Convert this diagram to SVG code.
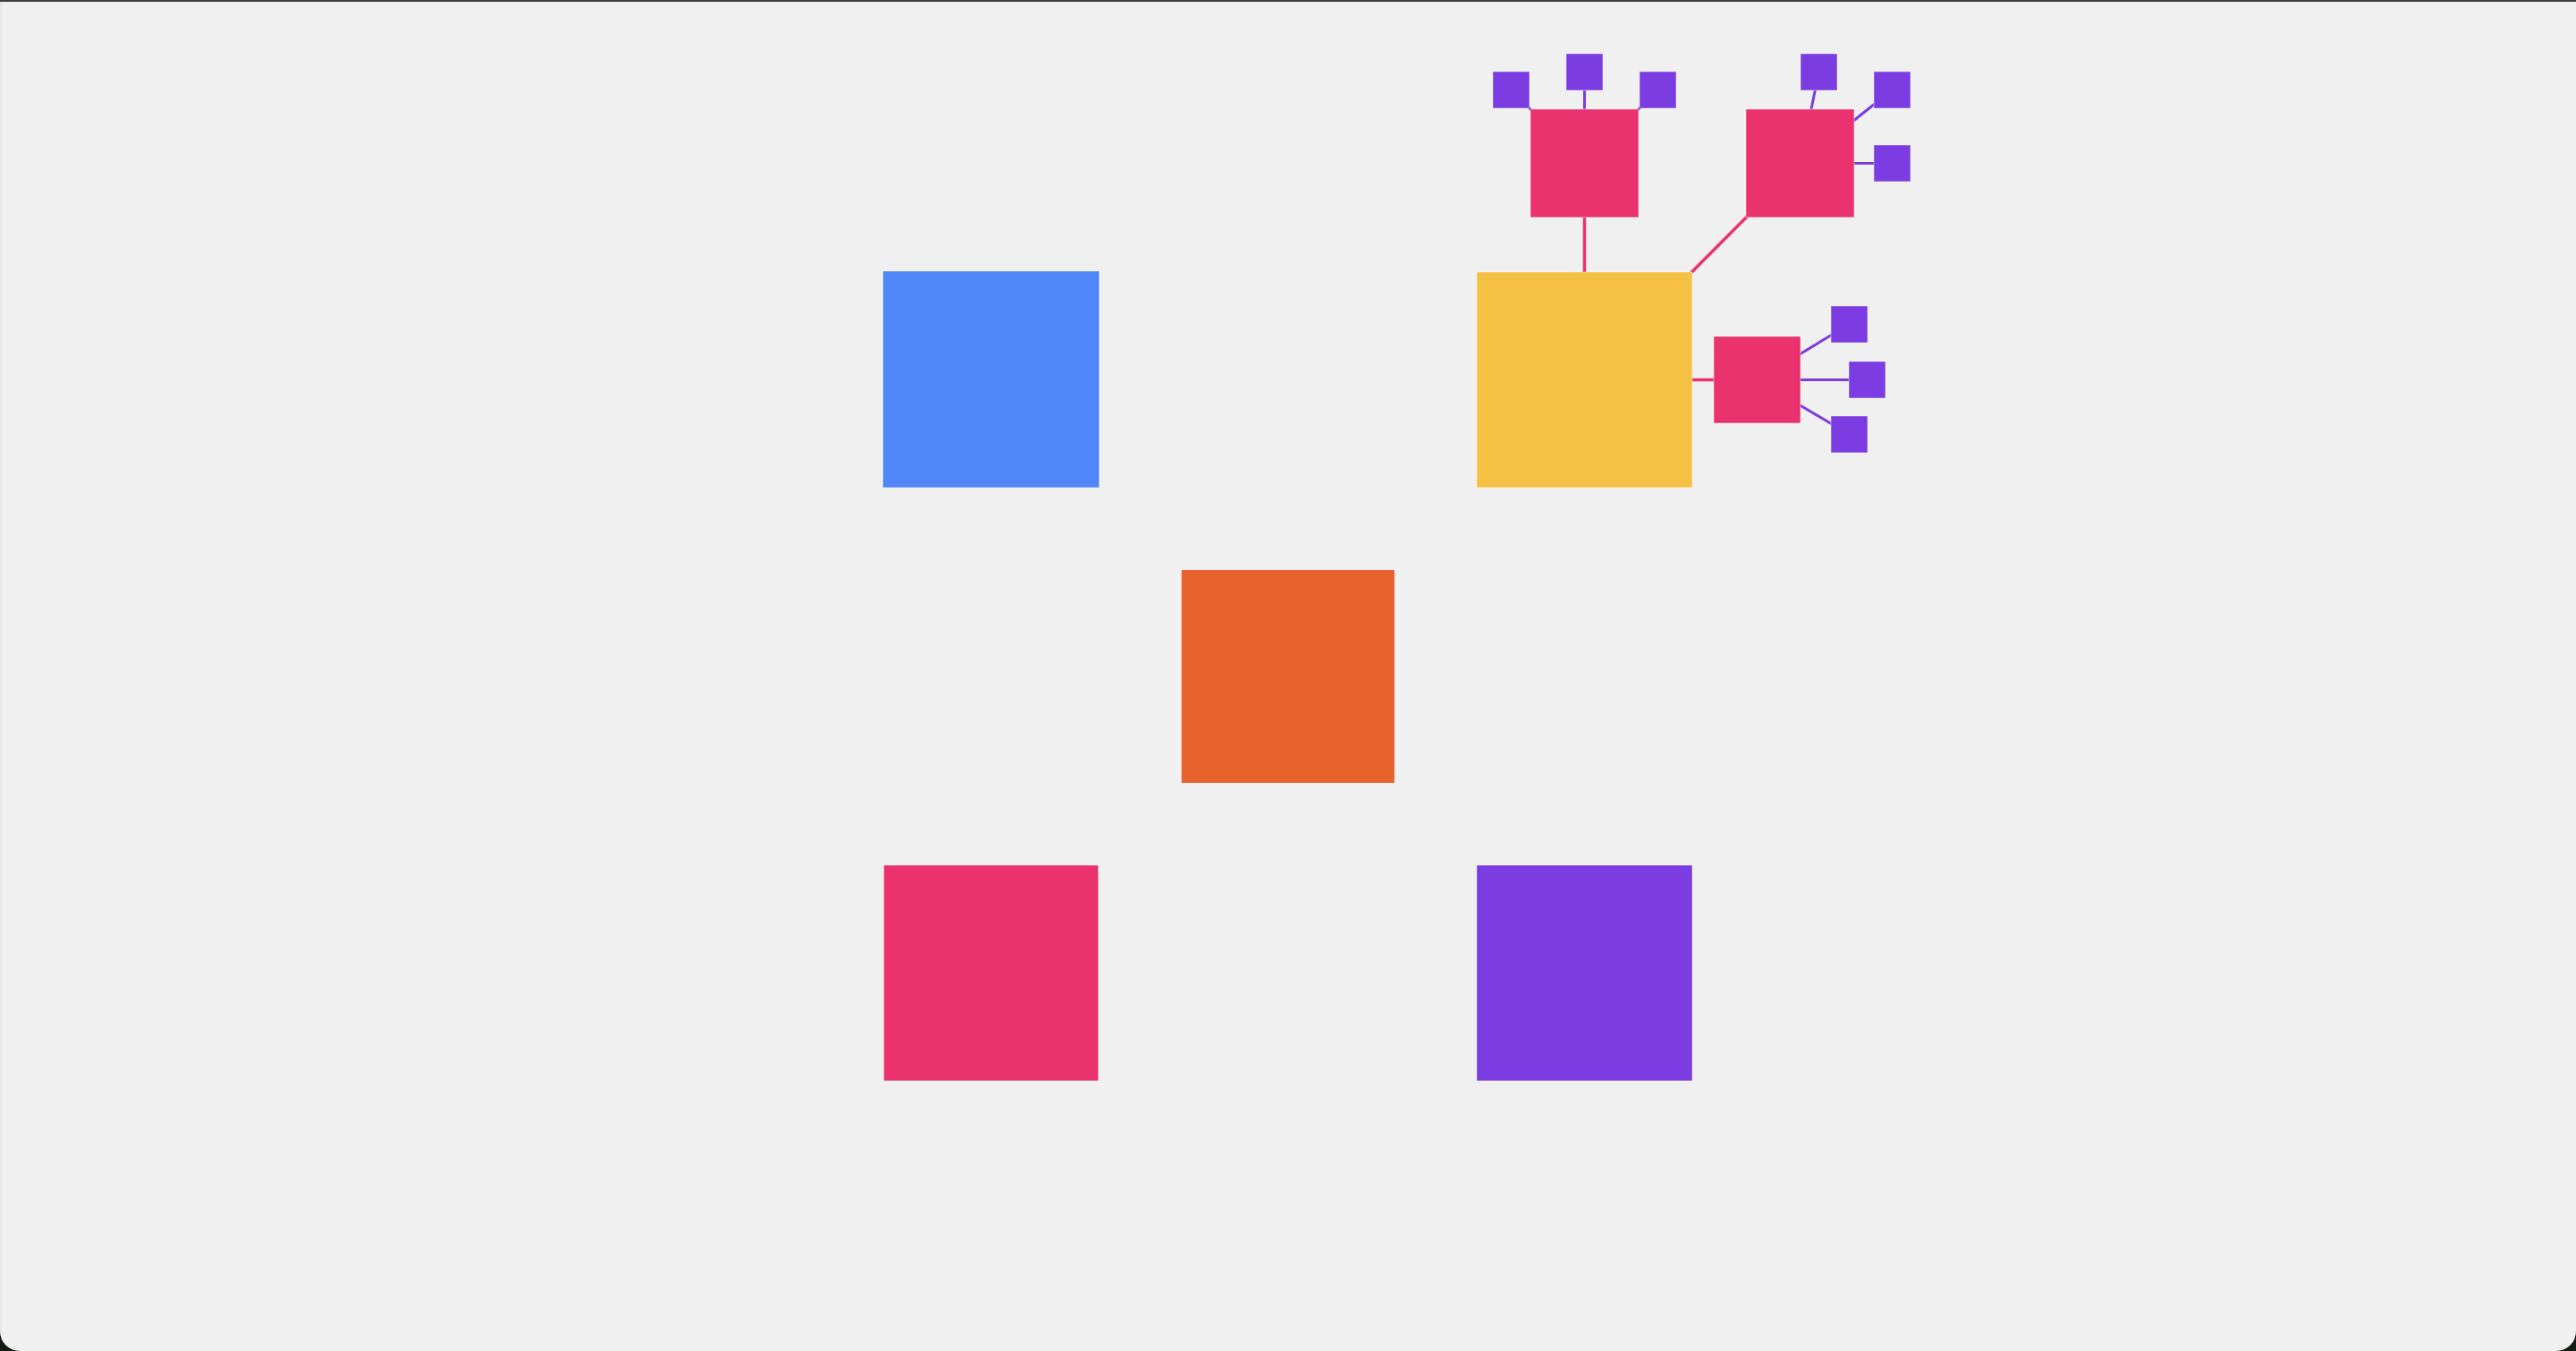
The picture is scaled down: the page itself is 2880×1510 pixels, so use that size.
<svg xmlns="http://www.w3.org/2000/svg" width="2880" height="1510" viewBox="0 0 2880 1510">
  <style>
    .node { stroke: rgba(255,255,255,0.45); stroke-width: 1; }
    .e-main { stroke: #EA336E; stroke-width: 3.5; fill: none; }
    .e-leaf { stroke: #7B3CE1; stroke-width: 3; fill: none; }
    .blue { fill: #4F86F8; }
    .yellow { fill: #F4C145; }
    .orange { fill: #E8622E; stroke: none; }
    .pink { fill: #EA336E; }
    .purple { fill: #7B3CE1; }
  </style>
  <rect x="0" y="0" width="2880" height="1510" fill="#141a14"/>
  <path d="M0 0 H2880 V1488 A22 22 0 0 1 2858 1510 H22 A22 22 0 0 1 0 1488 Z" fill="#F0F0F0"/>
  <rect x="0" y="0" width="2880" height="2" fill="#3f3f3f"/>
  <rect x="0" y="2" width="2" height="1486" fill="#e6e6e6"/>

  <g id="connectors">
    <line class="e-main" x1="1771.5" y1="424.5" x2="1771.5" y2="182.5"/>
    <line class="e-main" x1="1771.5" y1="424.5" x2="2012.5" y2="182.5"/>
    <line class="e-main" x1="1771.5" y1="424.5" x2="1964.5" y2="424.5"/>
    <line class="e-leaf" x1="1771.5" y1="182.5" x2="1689.5" y2="100.5"/>
    <line class="e-leaf" x1="1771.5" y1="182.5" x2="1771.5" y2="80.5"/>
    <line class="e-leaf" x1="1771.5" y1="182.5" x2="1853.5" y2="100.5"/>
    <line class="e-leaf" x1="2012.5" y1="182.5" x2="2033.5" y2="80.5"/>
    <line class="e-leaf" x1="2012.5" y1="182.5" x2="2115.5" y2="100.5"/>
    <line class="e-leaf" x1="2012.5" y1="182.5" x2="2115.5" y2="182.5"/>
    <line class="e-leaf" x1="1964.5" y1="424.5" x2="2067.5" y2="362.5"/>
    <line class="e-leaf" x1="1964.5" y1="424.5" x2="2087.5" y2="424.5"/>
    <line class="e-leaf" x1="1964.5" y1="424.5" x2="2067.5" y2="485.5"/>
  </g>

  <g id="node-blue"><rect class="node blue" x="987" y="303" width="242" height="242"/></g>
  <g id="node-yellow"><rect class="node yellow" x="1651" y="304" width="241" height="241"/></g>
  <g id="node-orange"><rect class="orange" x="1321" y="637" width="238" height="238"/></g>
  <g id="node-pink-bottom"><rect class="node pink" x="988" y="967" width="240" height="241"/></g>
  <g id="node-purple-bottom"><rect class="node purple" x="1651" y="967" width="241" height="241"/></g>

  <g id="node-pink-a"><rect class="node pink" x="1711" y="122" width="121" height="121"/></g>
  <g id="node-pink-b"><rect class="node pink" x="1952" y="122" width="121" height="121"/></g>
  <g id="node-pink-c"><rect class="node pink" x="1916" y="376" width="97" height="97"/></g>

  <g id="node-a1"><rect class="node purple" x="1669" y="80" width="41" height="41"/></g>
  <g id="node-a2"><rect class="node purple" x="1751" y="60" width="41" height="41"/></g>
  <g id="node-a3"><rect class="node purple" x="1833" y="80" width="41" height="41"/></g>
  <g id="node-b1"><rect class="node purple" x="2013" y="60" width="41" height="41"/></g>
  <g id="node-b2"><rect class="node purple" x="2095" y="80" width="41" height="41"/></g>
  <g id="node-b3"><rect class="node purple" x="2095" y="162" width="41" height="41"/></g>
  <g id="node-c1"><rect class="node purple" x="2047" y="342" width="41" height="41"/></g>
  <g id="node-c2"><rect class="node purple" x="2067" y="404" width="41" height="41"/></g>
  <g id="node-c3"><rect class="node purple" x="2047" y="465" width="41" height="41"/></g>
</svg>
